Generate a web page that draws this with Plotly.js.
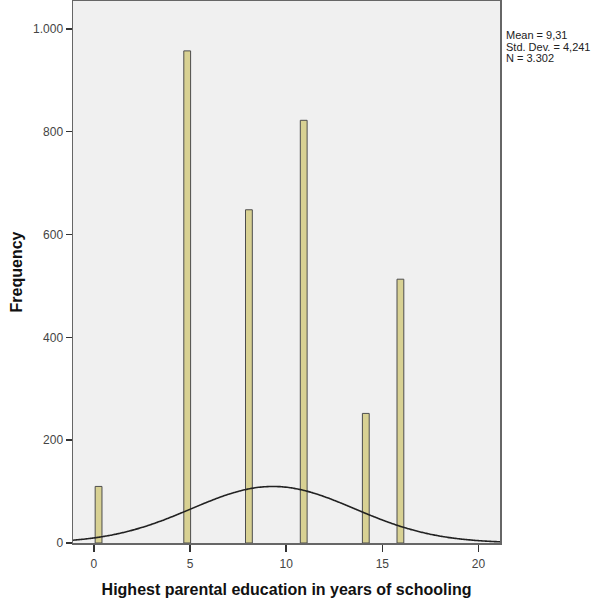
<!DOCTYPE html>
<html>
<head>
<meta charset="utf-8">
<script src="https://cdn.plot.ly/plotly-3.0.1.min.js"></script>
<style>html,body{margin:0;padding:0;background:#fff;}#chart{width:601px;height:608px;}</style>
</head>
<body>
<div id="chart"></div>
<script>
// Bin centres (years of schooling) and frequencies
const binCenters = [0.24, 4.85, 8.06, 10.91, 14.14, 15.94];
const frequencies = [110, 957, 648, 822, 252, 513];
const binWidth = 0.354;
const statMean = 9.31;
const statSD = 4.241;
const statN = 3302;
const statLines = ['Mean = 9,31', 'Std. Dev. = 4,241', 'N = 3.302'];
const yTickVals = [0, 200, 400, 600, 800, 1000];
const yTickText = ["0", "200", "400", "600", "800", "1.000"];
const xTickVals = [0, 5, 10, 15, 20];

// Fitted normal curve (as SPSS draws it) from the displayed statistics
const curveX = [];
const curveY = [];
for (let i = 0; i <= 240; i++) {
  const x = -1.1 + i * (22.3 / 240);
  curveX.push(x);
  const z = (x - statMean) / statSD;
  curveY.push(statN * binWidth * Math.exp(-0.5 * z * z) / (statSD * Math.sqrt(2 * Math.PI)));
}

const traces = [
  {
    type: 'bar',
    x: binCenters,
    y: frequencies,
    width: binWidth,
    marker: {color: '#d8d193', line: {color: '#4d4d4d', width: 1}},
    hoverinfo: 'x+y'
  },
  {
    type: 'scatter',
    mode: 'lines',
    x: curveX,
    y: curveY,
    line: {color: '#222222', width: 1.6, shape: 'spline'},
    hoverinfo: 'skip'
  }
];

const titleFont = {size: 16, color: '#111111', family: 'Arial, Liberation Sans, sans-serif', weight: 'bold'};
const statFont = {size: 11, color: '#222222', family: 'Liberation Sans Narrow, Arial Narrow, Arial, sans-serif'};

const layout = {
  width: 601,
  height: 608,
  margin: {l: 73, r: 101, t: 1, b: 65},
  paper_bgcolor: '#ffffff',
  plot_bgcolor: '#f0f0f0',
  showlegend: false,
  bargap: 0,
  font: {family: 'Arial, Liberation Sans, sans-serif', color: '#333333'},
  xaxis: {
    range: [-1.09, 21.12],
    tickvals: xTickVals,
    ticks: 'outside',
    ticklen: 7,
    tickwidth: 1.5,
    tickcolor: '#333333',
    ticklabelstandoff: 2,
    tickfont: {size: 12, color: '#444444'},
    showgrid: false,
    zeroline: false,
    showline: true,
    linecolor: '#666666',
    linewidth: 1.5,
    mirror: true,
    title: {text: 'Highest parental education in years of schooling', font: titleFont, standoff: 14}
  },
  yaxis: {
    range: [0, 1054],
    tickvals: yTickVals,
    ticktext: yTickText,
    ticks: 'outside',
    ticklen: 6,
    tickwidth: 1.5,
    tickcolor: '#333333',
    tickfont: {size: 12, color: '#444444'},
    showgrid: false,
    zeroline: false,
    showline: true,
    linecolor: '#666666',
    linewidth: 1.5,
    mirror: true,
    title: {text: 'Frequency', font: titleFont, standoff: 6}
  },
  annotations: statLines.map((t, i) => ({
    xref: 'paper', yref: 'paper',
    x: 1.012, y: (543 - (34.5 + i * 12)) / 542,
    xanchor: 'left', yanchor: 'middle',
    align: 'left',
    showarrow: false,
    borderpad: 0,
    text: t,
    font: statFont
  }))
};

Plotly.newPlot('chart', traces, layout, {displayModeBar: false, staticPlot: true});
</script>
</body>
</html>
